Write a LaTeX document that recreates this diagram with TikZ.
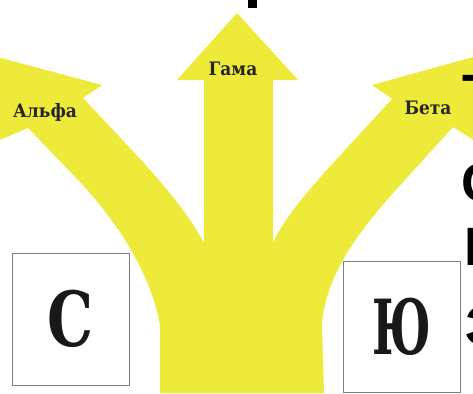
\documentclass[tikz,border=0pt]{standalone}
\usepackage{fontspec}
\newfontfamily\slabf{DejaVu Serif}[FakeStretch=0.92]
\newfontfamily\slabn{DejaVu Serif}[FakeStretch=0.76]
\newfontfamily\slabnn{DejaVu Serif}[FakeStretch=0.6]
\newfontfamily\sansf{Liberation Sans}
\definecolor{arrowyellow}{RGB}{238,234,58}
\definecolor{boxgray}{RGB}{128,128,128}
\begin{document}
\begin{tikzpicture}[x=1pt,y=-1pt,
  yel/.style={fill=arrowyellow,draw=none},
  lbl/.style={font=\slabf\bfseries\fontsize{18.5}{18.5}\selectfont,inner sep=0pt,text=black!85},
  letterbox/.style={draw=boxgray,line width=1pt,minimum width=117pt,minimum height=132pt,inner sep=0pt,
    font=\slabn\bfseries\fontsize{76}{76}\selectfont,text=black!90},
  frag/.style={font=\sansf\bfseries\fontsize{54}{54}\selectfont,inner sep=0pt,anchor=base west}]
\useasboundingbox (0,0) rectangle (473,393);
% centre arrow
\fill[yel] (237,13) -- (298,80) -- (273,80) -- (273,393) -- (204,393) -- (204,80) -- (177,80) -- cycle;
% left branch
\fill[yel] (102,85) -- (-40,47) -- (-40,157) -- (28,128) -- (80,182)
  .. controls (115,220) and (150,270) .. (160,325) -- (160,393) -- (210,393) -- (210,245) -- (205,245)
  .. controls (190,215) and (160,180) .. (130,148) -- (83,98) -- cycle;
% right branch
\fill[yel] (372,85) -- (520,44) -- (520,170) -- (453,127) -- (395,191)
  .. controls (360,230) and (325,275) .. (322,325) -- (324,393) -- (268,393) -- (268,245) -- (272,245)
  .. controls (285,215) and (315,183) .. (345,150) -- (392,99) -- cycle;
% labels
\node[lbl] (gama) at (233,69) {Гама};
\node[lbl] (alfa) at (45,112) {Альфа};
\node[lbl] (beta) at (428,108) {Бета};
% boxes
\node[letterbox] (s) at (70.5,319) {С};
\node[letterbox,minimum height=131pt,font=\slabnn\bfseries\fontsize{76}{76}\selectfont] (yu) at (401.5,326.5) {Ю};
% cropped fragments
\fill[black] (248,0) rectangle (257,8);
\node[frag] (f1) at (462,112) {Т};
\node[frag] (f2) at (461,201) {С};
\node[frag] (f3) at (464,265) {Б};
\node[frag] (f4) at (465,344) {З};
\end{tikzpicture}
\end{document}
